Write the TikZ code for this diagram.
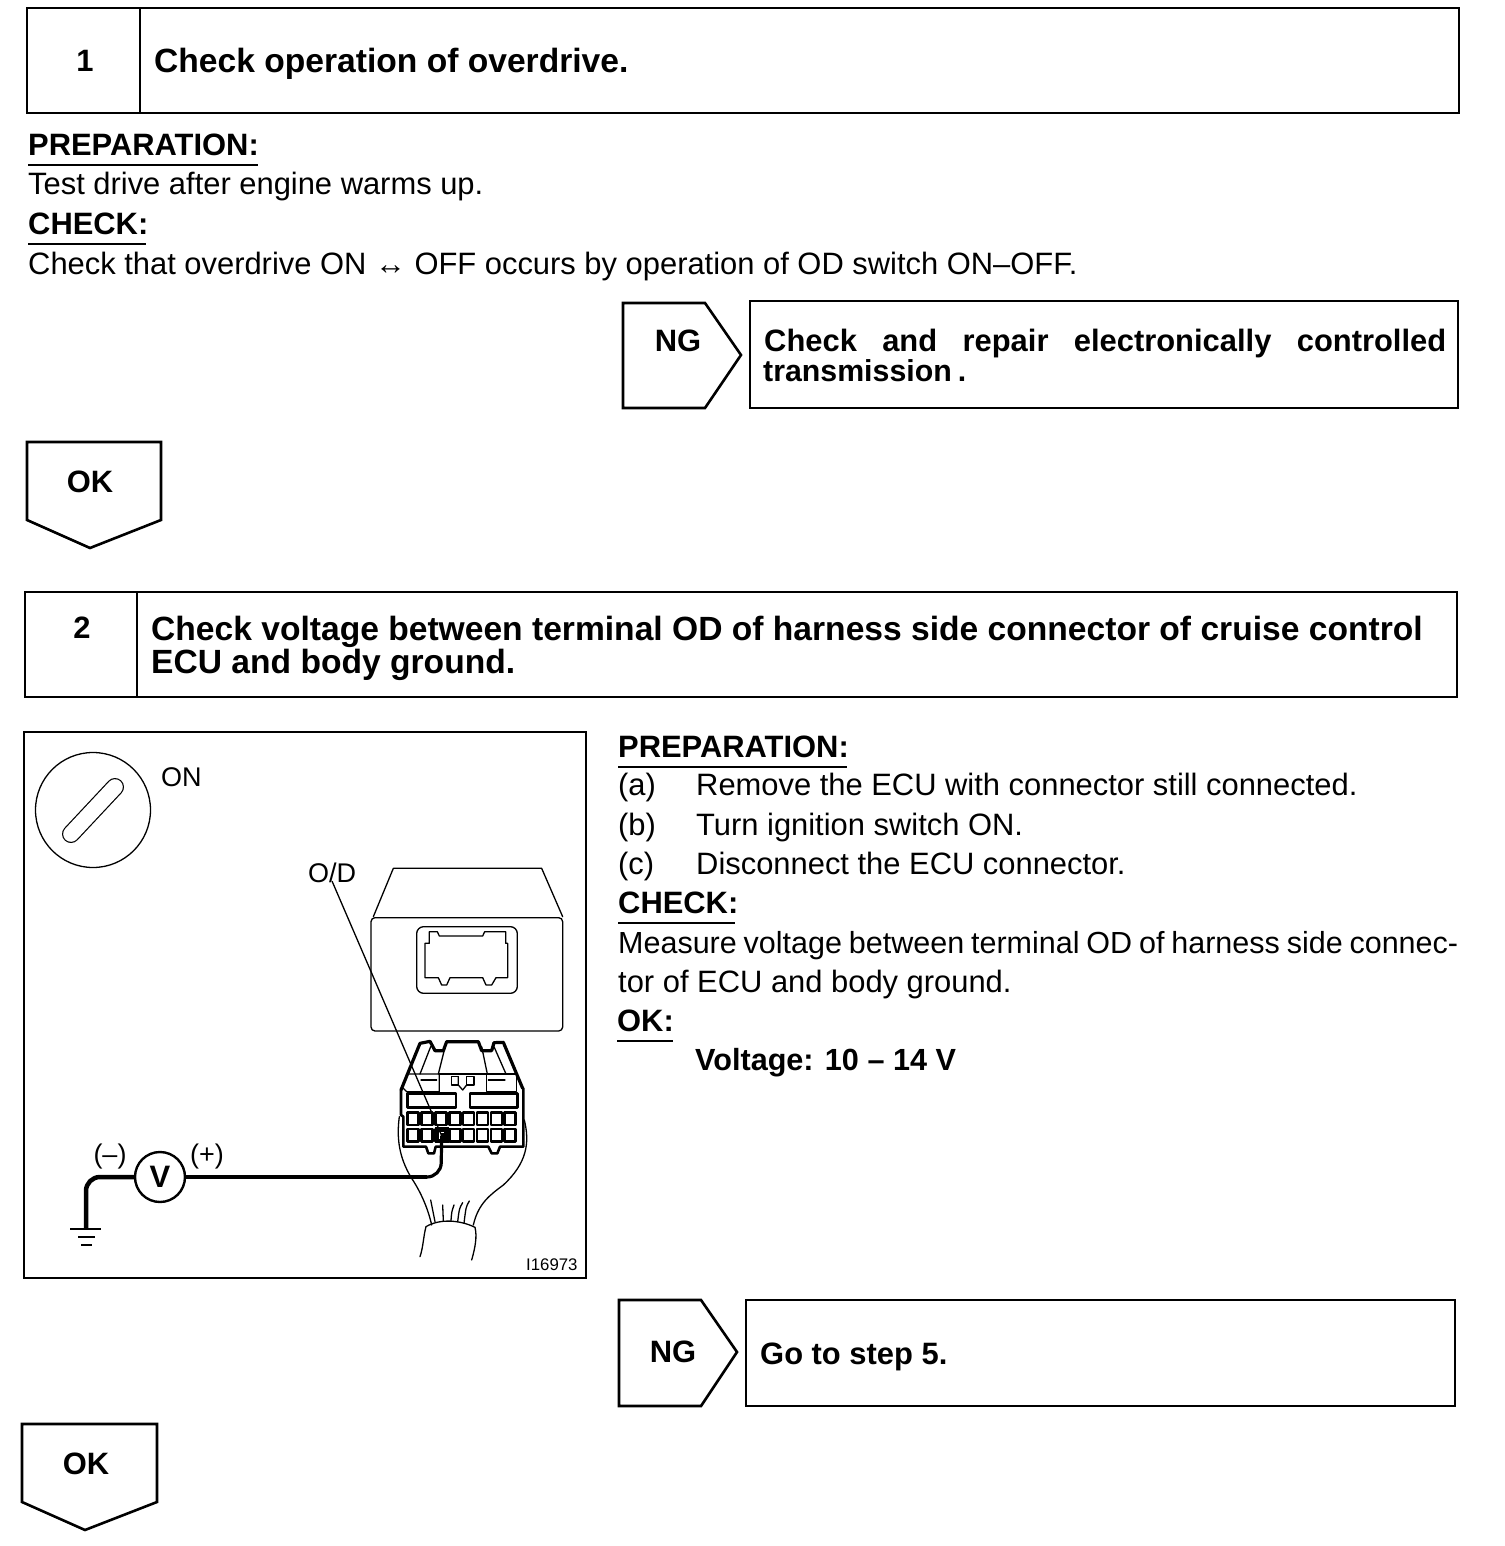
\documentclass[tikz,border=0pt]{standalone}
\usepackage{fontspec}
\setmainfont{Liberation Sans}
\newcommand{\bodyf}{\fontsize{30.9}{36}\selectfont}
\newcommand{\headf}{\fontsize{30.9}{36}\bfseries\selectfont}
\newcommand{\titlef}{\fontsize{33.6}{38}\bfseries\selectfont}
\tikzset{
 x=1pt,y=-1pt,
 lab/.style={anchor=base west,inner sep=0pt,font=\bodyf},
 hd/.style={anchor=base west,inner sep=0pt,font=\headf},
 ttl/.style={anchor=base west,inner sep=0pt,font=\titlef},
 ctr/.style={anchor=center,inner sep=0pt,font=\headf},
 frame/.style={draw=black,line width=2.6pt,line join=miter},
 thin1/.style={draw=black,line width=1.3pt,line join=round,line cap=round},
 thick1/.style={draw=black,line width=2.6pt,line join=round,line cap=round},
 ul/.style={draw=black,line width=1.2pt},
 wire/.style={draw=black,line width=4.5pt,line join=round},
}
\begin{document}
\begin{tikzpicture}
\useasboundingbox (0,0) rectangle (1504,1546);
\fill[white] (0,0) rectangle (1504,1546);
% Step 1
\draw[frame] (27,8) rectangle (1459,113) (140,8) -- (140,113);
\node[ctr] (n1) at (85,61) {1};
\node[ttl] (t1) at (154,73) {Check operation of overdrive.};
\node[hd] (p1) at (28,156) {PREPARATION:};
\draw[ul] (28,165) -- (258,165);
\node[lab] (l1) at (28,195) {Test drive after engine warms up.};
\node[hd] (c1) at (28,235) {CHECK:};
\draw[ul] (28,244) -- (146,244);
\node[lab] (l2) at (28,274) {Check that overdrive ON ↔ OFF occurs by operation of OD switch ON–OFF.};
% NG 1
\draw[frame] (623,303) -- (705,303) -- (741,355) -- (705,408) -- (623,408) -- cycle;
\node[ctr] (ng1) at (678,341) {NG};
\draw[frame] (750,301) rectangle (1458,408);
\node[hd] (r1) at (764,351) {\makebox[682pt][s]{Check and repair electronically controlled}};
\node[hd,font=\fontsize{30.3}{36}\bfseries\selectfont] (r2) at (763,381) {transmission\kern6pt.};
% OK 1
\draw[frame] (27,442) -- (161,442) -- (161,520) -- (90,548) -- (27,520) -- cycle;
\node[ctr] (ok1) at (90,482) {OK};
% Step 2
\draw[frame] (25,592) rectangle (1457,697) (137,592) -- (137,697);
\node[ctr] (n2) at (82,628) {2};
\node[ttl] (t2) at (151,640) {Check voltage between terminal OD of harness side connector of cruise control};
\node[ttl] (t3) at (151,673) {ECU and body ground.};
% Figure
\draw[frame,line width=2.8pt] (24,732) rectangle (586,1278);
\draw[thin1] (93,810) circle (57.5);
\draw[black,line width=18pt,line cap=round] (115,787) -- (71,834);
\draw[white,line width=15.6pt,line cap=round] (115,787) -- (71,834);
\node[lab,font=\fontsize{27}{30}\selectfont] (on) at (161,786) {ON};
\node[lab,font=\fontsize{27}{30}\selectfont] (od) at (308,882) {O/D};
% ECU and connector, drawn in enlarged crop coordinates
\begin{scope}[shift={(340,850)},x=0.33333pt,y=-0.33333pt]
 \coordinate (tip) at (305,857);
 \coordinate (bend) at (303,975);
 % ECU
 \draw[thin1] (100,200) -- (160,55) -- (605,55) -- (668,200);
 \draw[thin1,rounded corners=4pt] (93,203) rectangle (668,543);
 \draw[thin1,rounded corners=7pt] (230,230) rectangle (532,430);
 \draw[thin1] (268,280) -- (268,245) -- (292,245) -- (298,258) -- (428,258) -- (434,245) -- (497,245) -- (497,280) -- (503,280) -- (503,383) -- (468,383) -- (455,405) -- (438,405) -- (428,383) -- (330,383) -- (320,405) -- (305,405) -- (295,383) -- (255,383) -- (255,280) -- cycle;
 % connector outer
 \draw[thick1,line width=3.2pt] (183,720) -- (240,580) -- (270,574) -- (285,602) -- (310,602) -- (320,575) -- (415,575) -- (425,602) -- (455,602) -- (462,578) -- (490,577) -- (548,715);
 \draw[thick1] (183,720) -- (183,795) -- (190,800) -- (190,890) -- (258,890) -- (265,910) -- (282,910) -- (287,890) -- (445,890) -- (455,910) -- (472,910) -- (480,890) -- (550,890) -- (550,715);
 % inner lines
 \draw[thin1] (200,672) -- (298,672) -- (298,725) -- (200,725) -- (190,715);
 \draw[thin1] (440,672) -- (530,672) -- (530,725) -- (440,725) -- cycle;
 \draw[thin1] (298,672) -- (440,672);
 \draw[thin1] (240,672) -- (272,590);
 \draw[thin1] (295,672) -- (318,580);
 \draw[thin1] (425,590) -- (442,672);
 \draw[thin1] (462,590) -- (498,672);
 \draw[thin1] (243,690) -- (290,690) (445,690) -- (495,690);
 \draw[thin1] (335,680) rectangle (355,705);
 \draw[thin1] (380,680) rectangle (402,705);
 \draw[thin1] (355,680) -- (355,705) -- (368,720) -- (380,705);
 \draw[thick1] (203,730) rectangle (348,772);
 \draw[thick1] (390,730) rectangle (532,772);
 \foreach \i in {0,...,7} {
  \draw[thick1] (203+\i*41.6,787) rectangle (236+\i*41.6,825);
  \draw[thick1] (203+\i*41.6,837) rectangle (236+\i*41.6,875);
 }
 \fill[black] (285,832) rectangle (327,880);
 \fill[white] (297,845) rectangle (312,868);
 \fill[black] (302,850) rectangle (318,868);
 % harness
 \draw[thin1] (178,800) .. controls (170,860) and (175,920) .. (215,985) .. controls (245,1030) and (265,1080) .. (275,1125);
 \draw[thin1] (553,810) .. controls (570,880) and (560,940) .. (490,1005) .. controls (450,1035) and (415,1060) .. (400,1125);
 \draw[thin1] (258,1130) .. controls (300,1105) and (360,1110) .. (405,1132);
 \draw[thin1] (258,1130) .. controls (250,1160) and (250,1190) .. (240,1220);
 \draw[thin1] (405,1132) .. controls (412,1160) and (405,1195) .. (395,1230);
 \draw[thin1] (272,1050) -- (285,1115);
 \draw[thin1] (308,1065) -- (310,1112);
 \draw[thin1] (342,1065) .. controls (335,1085) .. (333,1112);
 \draw[thin1] (368,1058) .. controls (358,1075) .. (353,1115);
 \draw[thin1] (388,1053) .. controls (378,1070) .. (372,1120);
\end{scope}
\node[lab,font=\fontsize{16.8}{18}\selectfont] (code) at (526,1270) {I16973};
% Voltmeter
\node[circle,draw=black,line width=2.4pt,minimum size=50pt,inner sep=0pt,font=\fontsize{31}{34}\bfseries\selectfont] (v) at (160,1177) {V};
\node[ctr,font=\fontsize{27}{30}\selectfont] (minus) at (110,1156) {(–)};
\node[ctr,font=\fontsize{27}{30}\selectfont] (plus) at (207,1156) {(+)};
\coordinate (gnd) at (86,1229);
\draw[wire,rounded corners=14pt] (v.west) -- (gnd |- v.west) -- (gnd);
\draw[wire,line width=3.2pt,rounded corners=14pt] (v.east) -- (bend |- v.east) -- (tip);
\draw[black,line width=4.5pt] (v.east) -- ([xshift=-14pt]bend |- v.east);
\draw[thin1] ([yshift=1pt]od.south) -- (tip);
\draw[black,line width=2.4pt] (70,1229) -- (101,1229);
\draw[black,line width=2.2pt] (78,1237) -- (95,1237);
\draw[black,line width=2.2pt] (81,1245) -- (92,1245);
% Right column
\node[hd] (p2) at (618,757) {PREPARATION:};
\draw[ul] (618,767) -- (847,767);
\node[lab] (a1) at (618,795) {(a)};
\node[lab] (a2) at (696,795) {Remove the ECU with connector still connected.};
\node[lab] (b1) at (618,835) {(b)};
\node[lab] (b2) at (696,835) {Turn ignition switch ON.};
\node[lab] (c3) at (618,874) {(c)};
\node[lab] (c4) at (696,874) {Disconnect the ECU connector.};
\node[hd] (c2) at (618,913) {CHECK:};
\draw[ul] (618,923) -- (735,923);
\node[lab,font=\fontsize{30.5}{36}\selectfont] (m1) at (618,953) {\makebox[840pt][s]{Measure voltage between terminal OD of harness side connec-}};
\node[lab] (m2) at (618,992) {tor of ECU and body ground.};
\node[hd] (k) at (617,1031) {OK:};
\draw[ul] (617,1041) -- (673,1041);
\node[hd,font=\fontsize{30.6}{36}\bfseries\selectfont] (vv) at (695,1070) {Voltage: 10 – 14 V};
% NG 2
\draw[frame] (619,1300) -- (701,1300) -- (737,1352) -- (701,1406) -- (619,1406) -- cycle;
\node[ctr] (ng2) at (673,1352) {NG};
\draw[frame] (746,1300) rectangle (1455,1406);
\node[hd] (g) at (760,1364) {Go to step 5.};
% OK 2
\draw[frame] (22,1424) -- (157,1424) -- (157,1502) -- (85,1530) -- (22,1502) -- cycle;
\node[ctr] (ok2) at (86,1464) {OK};
\end{tikzpicture}
\end{document}
